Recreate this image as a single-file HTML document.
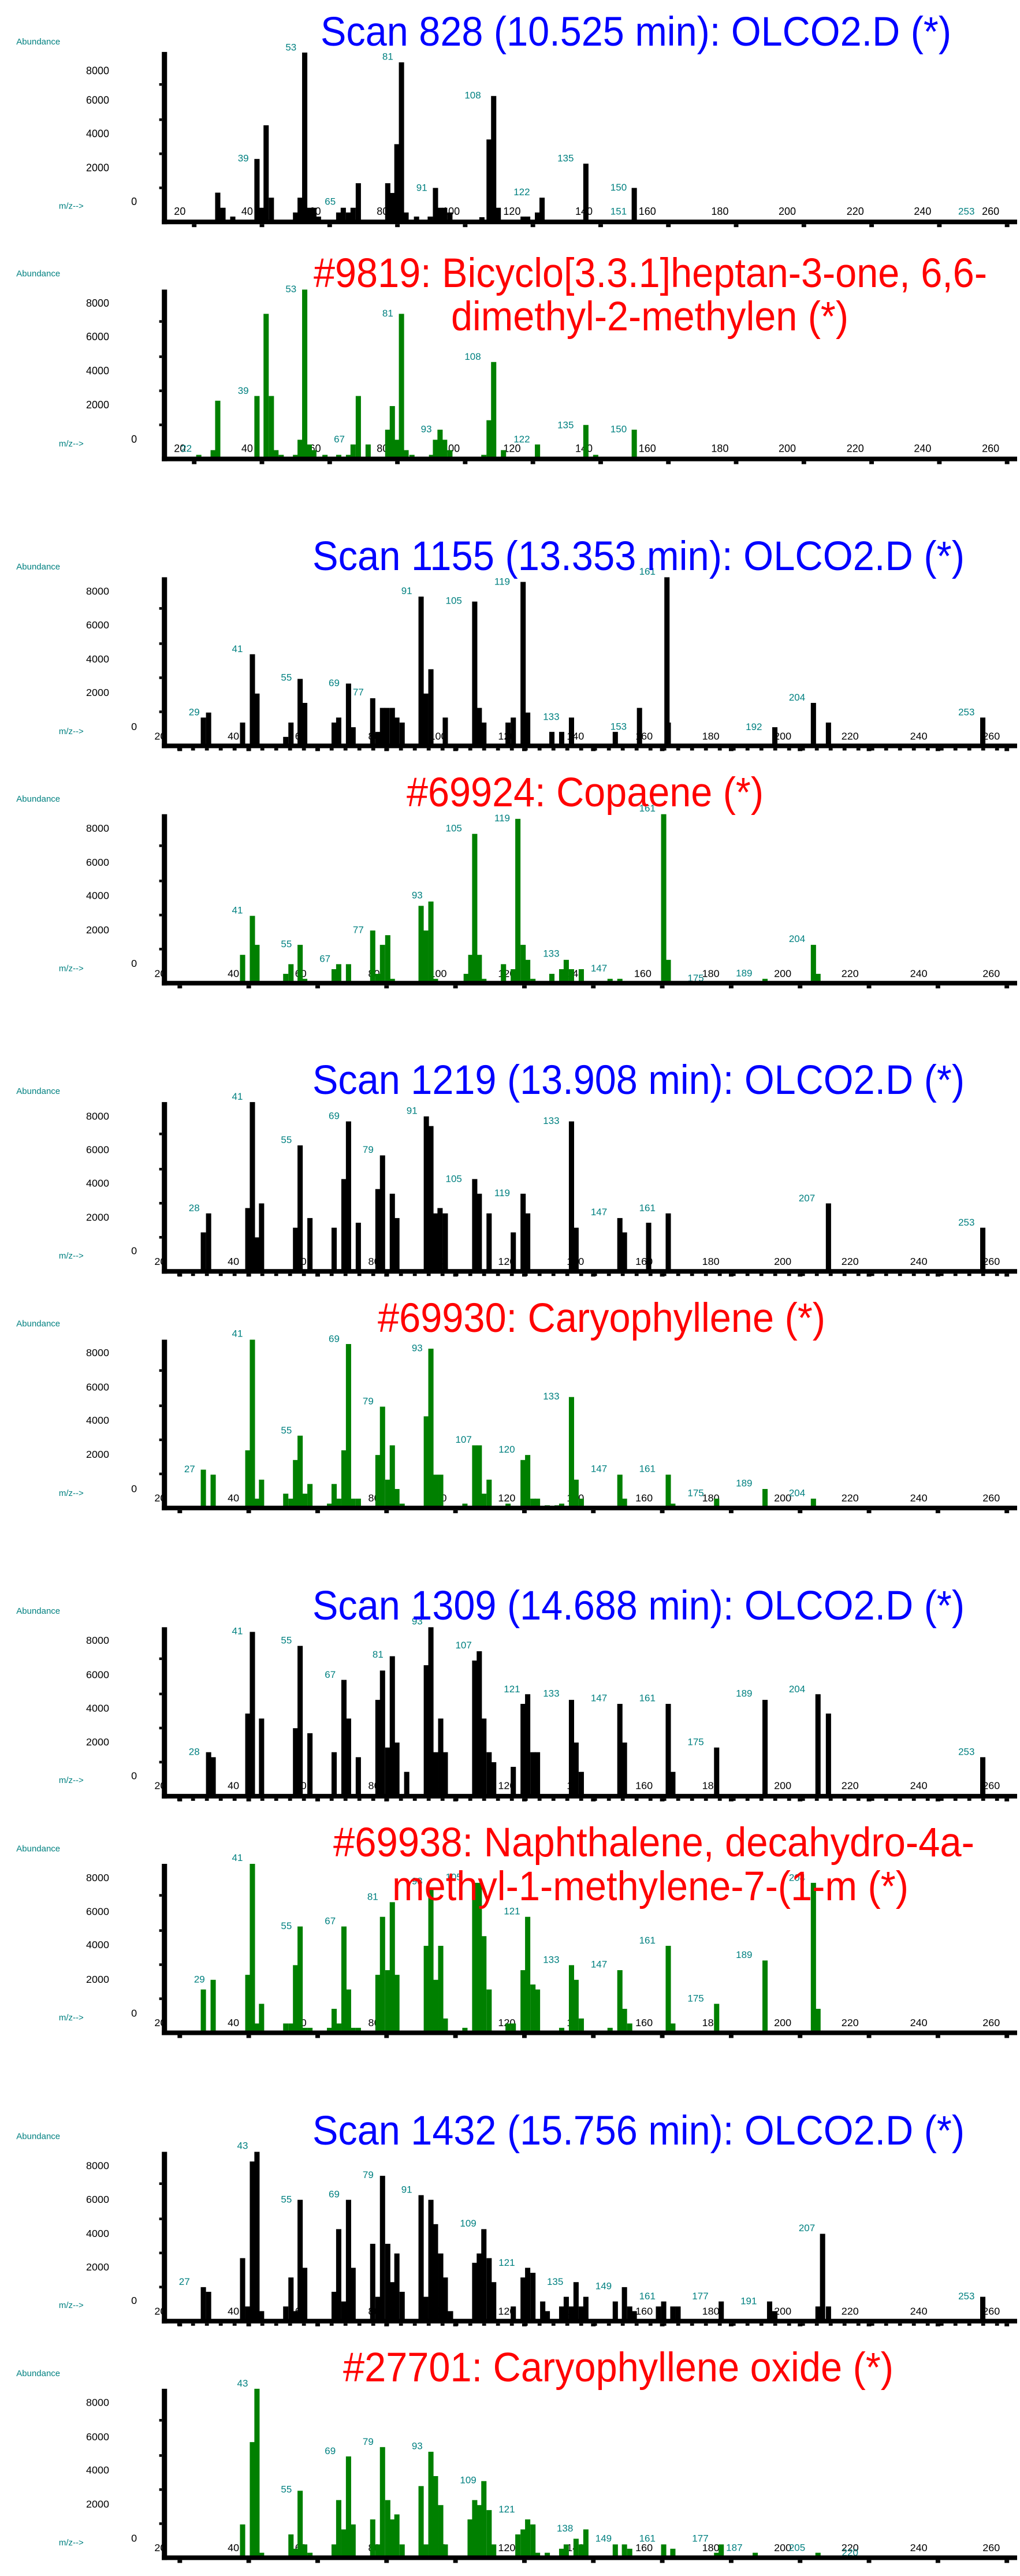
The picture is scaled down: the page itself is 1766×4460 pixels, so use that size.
<!DOCTYPE html>
<html><head><meta charset="utf-8">
<style>
html,body{margin:0;padding:0;background:#fff;}
svg{display:block;}
text{font-family:"Liberation Sans",Arial,sans-serif;}
.p{fill:#008080;font-size:17px;text-anchor:middle;dominant-baseline:central;}
.a{fill:#000;font-size:18px;text-anchor:middle;dominant-baseline:central;}
.y{fill:#000;font-size:18px;text-anchor:end;dominant-baseline:central;}
.ab{fill:#008080;font-size:15px;text-anchor:start;dominant-baseline:central;}
.t{font-size:71px;}
</style></head>
<body>
<svg id="s" width="1766" height="4460" viewBox="0 0 1766 4460" xmlns="http://www.w3.org/2000/svg">
<rect width="1766" height="4460" fill="#fff"/>

<!-- Block 0 -->
<g id="b0" transform="translate(0,0) scale(1.1321,0.5450)">
<g class="tx">
<text class="ab" x="25" y="133">Abundance</text>
<text class="ab" x="90" y="655">m/z--&gt;</text>
<text class="y" x="167" y="225">8000</text><text class="y" x="167" y="318">6000</text><text class="y" x="167" y="425">4000</text><text class="y" x="167" y="533">2000</text><text class="a" x="205" y="640">0</text>
<text class="a" x="275" y="672">20</text><text class="a" x="378" y="672">40</text><text class="a" x="482" y="672">60</text><text class="a" x="585" y="672">80</text><text class="a" x="690" y="672">100</text><text class="a" x="783" y="672">120</text><text class="a" x="893" y="672">140</text><text class="a" x="990" y="672">160</text><text class="a" x="1101" y="672">180</text><text class="a" x="1204" y="672">200</text><text class="a" x="1308" y="672">220</text><text class="a" x="1411" y="672">240</text><text class="a" x="1515" y="672">260</text>
<text class="p" x="445" y="150">53</text><text class="p" x="593" y="180">81</text><text class="p" x="723" y="303">108</text><text class="p" x="372" y="503">39</text><text class="p" x="645" y="596">91</text><text class="p" x="865" y="503">135</text><text class="p" x="798" y="610">122</text><text class="p" x="946" y="595">150</text><text class="p" x="505" y="640">65</text><text class="p" x="946" y="672">151</text><text class="p" x="1478" y="672">253</text>

<text class="ab" x="25" y="870">Abundance</text>
<text class="ab" x="90" y="1410">m/z--&gt;</text>
<text class="y" x="167" y="963">8000</text><text class="y" x="167" y="1070">6000</text><text class="y" x="167" y="1178">4000</text><text class="y" x="167" y="1286">2000</text><text class="a" x="205" y="1395">0</text>
<text class="a" x="275" y="1425">20</text><text class="p" x="285" y="1425">22</text><text class="a" x="378" y="1425">40</text><text class="a" x="482" y="1425">60</text><text class="a" x="585" y="1425">80</text><text class="a" x="690" y="1425">100</text><text class="a" x="783" y="1425">120</text><text class="a" x="893" y="1425">140</text><text class="a" x="990" y="1425">160</text><text class="a" x="1101" y="1425">180</text><text class="a" x="1204" y="1425">200</text><text class="a" x="1308" y="1425">220</text><text class="a" x="1411" y="1425">240</text><text class="a" x="1515" y="1425">260</text>
<text class="p" x="445" y="918">53</text><text class="p" x="593" y="995">81</text><text class="p" x="723" y="1133">108</text><text class="p" x="372" y="1241">39</text><text class="p" x="652" y="1363">93</text><text class="p" x="865" y="1350">135</text><text class="p" x="946" y="1363">150</text><text class="p" x="519" y="1395">67</text><text class="p" x="798" y="1395">122</text>
</g></g>

<!-- Block 1 -->
<g id="b1" transform="translate(0,880) scale(1.1321,0.5770)">
<g class="tx">
<text class="ab" x="25" y="176">Abundance</text>
<text class="ab" x="90" y="670">m/z--&gt;</text>
<text class="y" x="167" y="249">8000</text><text class="y" x="167" y="350">6000</text><text class="y" x="167" y="452">4000</text><text class="y" x="167" y="553">2000</text><text class="a" x="205" y="655">0</text>
<text class="a" x="245" y="684">20</text><text class="a" x="357" y="684">40</text><text class="a" x="460" y="684">60</text><text class="a" x="572" y="684">80</text><text class="a" x="670" y="684">100</text><text class="a" x="775" y="684">120</text><text class="a" x="880" y="684">140</text><text class="a" x="985" y="684">160</text><text class="a" x="1087" y="684">180</text><text class="a" x="1197" y="684">200</text><text class="a" x="1300" y="684">220</text><text class="a" x="1405" y="684">240</text><text class="a" x="1516" y="684">260</text>
<text class="p" x="990" y="190">161</text><text class="p" x="768" y="220">119</text><text class="p" x="622" y="248">91</text><text class="p" x="694" y="277">105</text><text class="p" x="363" y="422">41</text><text class="p" x="438" y="508">55</text><text class="p" x="511" y="524">69</text><text class="p" x="548" y="552">77</text><text class="p" x="297" y="612">29</text><text class="p" x="843" y="626">133</text><text class="p" x="946" y="655">153</text><text class="p" x="1153" y="656">192</text><text class="p" x="1219" y="568">204</text><text class="p" x="1478" y="612">253</text>

<text class="ab" x="25" y="873">Abundance</text>
<text class="ab" x="90" y="1381">m/z--&gt;</text>
<text class="y" x="167" y="960">8000</text><text class="y" x="167" y="1062">6000</text><text class="y" x="167" y="1162">4000</text><text class="y" x="167" y="1265">2000</text><text class="a" x="205" y="1366">0</text>
<text class="a" x="245" y="1396">20</text><text class="a" x="357" y="1396">40</text><text class="a" x="460" y="1396">60</text><text class="a" x="572" y="1396">80</text><text class="a" x="670" y="1396">100</text><text class="a" x="775" y="1396">120</text><text class="a" x="880" y="1396">140</text><text class="a" x="983" y="1396">160</text><text class="a" x="1087" y="1396">180</text><text class="a" x="1197" y="1396">200</text><text class="a" x="1300" y="1396">220</text><text class="a" x="1405" y="1396">240</text><text class="a" x="1516" y="1396">260</text>
<text class="p" x="990" y="900">161</text><text class="p" x="768" y="930">119</text><text class="p" x="694" y="960">105</text><text class="p" x="638" y="1161">93</text><text class="p" x="363" y="1206">41</text><text class="p" x="548" y="1265">77</text><text class="p" x="438" y="1308">55</text><text class="p" x="497" y="1352">67</text><text class="p" x="843" y="1336">133</text><text class="p" x="916" y="1380">147</text><text class="p" x="1219" y="1292">204</text><text class="p" x="1064" y="1410">175</text><text class="p" x="1138" y="1395">189</text>
</g></g>

<!-- Block 2 -->
<g id="b2" transform="translate(0,1780) scale(1.1321,0.5770)">
<g class="tx">
<text class="ab" x="25" y="190">Abundance</text>
<text class="ab" x="90" y="684">m/z--&gt;</text>
<text class="y" x="167" y="264">8000</text><text class="y" x="167" y="365">6000</text><text class="y" x="167" y="465">4000</text><text class="y" x="167" y="568">2000</text><text class="a" x="205" y="668">0</text>
<text class="a" x="245" y="700">20</text><text class="a" x="357" y="700">40</text><text class="a" x="460" y="700">60</text><text class="a" x="572" y="700">80</text><text class="a" x="670" y="700">100</text><text class="a" x="775" y="700">120</text><text class="a" x="880" y="700">140</text><text class="a" x="985" y="700">160</text><text class="a" x="1087" y="700">180</text><text class="a" x="1197" y="700">200</text><text class="a" x="1300" y="700">220</text><text class="a" x="1405" y="700">240</text><text class="a" x="1516" y="700">260</text>
<text class="p" x="363" y="205">41</text><text class="p" x="511" y="263">69</text><text class="p" x="630" y="248">91</text><text class="p" x="843" y="278">133</text><text class="p" x="438" y="335">55</text><text class="p" x="563" y="365">79</text><text class="p" x="694" y="452">105</text><text class="p" x="768" y="495">119</text><text class="p" x="297" y="540">28</text><text class="p" x="916" y="552">147</text><text class="p" x="990" y="540">161</text><text class="p" x="1234" y="510">207</text><text class="p" x="1478" y="583">253</text>

<text class="ab" x="25" y="887">Abundance</text>
<text class="ab" x="90" y="1396">m/z--&gt;</text>
<text class="y" x="167" y="974">8000</text><text class="y" x="167" y="1077">6000</text><text class="y" x="167" y="1177">4000</text><text class="y" x="167" y="1279">2000</text><text class="a" x="205" y="1382">0</text>
<text class="a" x="245" y="1410">20</text><text class="a" x="357" y="1410">40</text><text class="a" x="460" y="1410">60</text><text class="a" x="572" y="1410">80</text><text class="a" x="670" y="1410">100</text><text class="a" x="775" y="1410">120</text><text class="a" x="880" y="1410">140</text><text class="a" x="985" y="1410">160</text><text class="a" x="1087" y="1410">180</text><text class="a" x="1197" y="1410">200</text><text class="a" x="1300" y="1410">220</text><text class="a" x="1405" y="1410">240</text><text class="a" x="1516" y="1410">260</text>
<text class="p" x="363" y="917">41</text><text class="p" x="511" y="932">69</text><text class="p" x="638" y="960">93</text><text class="p" x="843" y="1105">133</text><text class="p" x="563" y="1120">79</text><text class="p" x="438" y="1207">55</text><text class="p" x="709" y="1235">107</text><text class="p" x="775" y="1264">120</text><text class="p" x="290" y="1323">27</text><text class="p" x="916" y="1322">147</text><text class="p" x="990" y="1322">161</text><text class="p" x="1064" y="1395">175</text><text class="p" x="1138" y="1366">189</text><text class="p" x="1219" y="1395">204</text>
</g></g>

<!-- Block 3 -->
<g id="b3" transform="translate(0,2680) scale(1.1321,0.5770)">
<g class="tx">
<text class="ab" x="25" y="190">Abundance</text>
<text class="ab" x="90" y="698">m/z--&gt;</text>
<text class="y" x="167" y="277">8000</text><text class="y" x="167" y="380">6000</text><text class="y" x="167" y="481">4000</text><text class="y" x="167" y="582">2000</text><text class="a" x="205" y="684">0</text>
<text class="a" x="245" y="713">20</text><text class="a" x="357" y="713">40</text><text class="a" x="460" y="713">60</text><text class="a" x="572" y="713">80</text><text class="a" x="670" y="713">100</text><text class="a" x="775" y="713">120</text><text class="a" x="880" y="713">140</text><text class="a" x="985" y="713">160</text><text class="a" x="1087" y="713">180</text><text class="a" x="1197" y="713">200</text><text class="a" x="1300" y="713">220</text><text class="a" x="1405" y="713">240</text><text class="a" x="1516" y="713">260</text>
<text class="p" x="638" y="220">93</text><text class="p" x="363" y="250">41</text><text class="p" x="438" y="277">55</text><text class="p" x="709" y="292">107</text><text class="p" x="578" y="320">81</text><text class="p" x="505" y="380">67</text><text class="p" x="783" y="424">121</text><text class="p" x="843" y="437">133</text><text class="p" x="916" y="451">147</text><text class="p" x="990" y="451">161</text><text class="p" x="1138" y="437">189</text><text class="p" x="1219" y="424">204</text><text class="p" x="1064" y="582">175</text><text class="p" x="297" y="612">28</text><text class="p" x="1478" y="612">253</text>

<text class="ab" x="25" y="903">Abundance</text>
<text class="ab" x="90" y="1410">m/z--&gt;</text>
<text class="y" x="167" y="990">8000</text><text class="y" x="167" y="1091">6000</text><text class="y" x="167" y="1191">4000</text><text class="y" x="167" y="1295">2000</text><text class="a" x="205" y="1396">0</text>
<text class="a" x="245" y="1425">20</text><text class="a" x="357" y="1425">40</text><text class="a" x="460" y="1425">60</text><text class="a" x="572" y="1425">80</text><text class="a" x="670" y="1425">100</text><text class="a" x="775" y="1425">120</text><text class="a" x="880" y="1425">140</text><text class="a" x="985" y="1425">160</text><text class="a" x="1087" y="1425">180</text><text class="a" x="1197" y="1425">200</text><text class="a" x="1300" y="1425">220</text><text class="a" x="1405" y="1425">240</text><text class="a" x="1516" y="1425">260</text>
<text class="p" x="363" y="930">41</text><text class="p" x="638" y="1000">93</text><text class="p" x="694" y="988">105</text><text class="p" x="570" y="1047">81</text><text class="p" x="783" y="1090">121</text><text class="p" x="438" y="1134">55</text><text class="p" x="505" y="1120">67</text><text class="p" x="990" y="1178">161</text><text class="p" x="1138" y="1221">189</text><text class="p" x="843" y="1236">133</text><text class="p" x="916" y="1250">147</text><text class="p" x="305" y="1295">29</text><text class="p" x="1064" y="1352">175</text><text class="p" x="1219" y="990">204</text>
</g></g>

<!-- Block 4 -->
<g id="b4" transform="translate(0,3560) scale(1.1321,0.5770)">
<g class="tx">
<text class="ab" x="25" y="241">Abundance</text>
<text class="ab" x="90" y="748">m/z--&gt;</text>
<text class="y" x="167" y="328">8000</text><text class="y" x="167" y="430">6000</text><text class="y" x="167" y="532">4000</text><text class="y" x="167" y="633">2000</text><text class="a" x="205" y="733">0</text>
<text class="a" x="245" y="765">20</text><text class="a" x="357" y="765">40</text><text class="a" x="460" y="765">60</text><text class="a" x="572" y="765">80</text><text class="a" x="670" y="765">100</text><text class="a" x="775" y="765">120</text><text class="a" x="880" y="765">140</text><text class="a" x="985" y="765">160</text><text class="a" x="1087" y="765">180</text><text class="a" x="1197" y="765">200</text><text class="a" x="1300" y="765">220</text><text class="a" x="1405" y="765">240</text><text class="a" x="1516" y="765">260</text>
<text class="p" x="371" y="269">43</text><text class="p" x="563" y="356">79</text><text class="p" x="622" y="400">91</text><text class="p" x="511" y="414">69</text><text class="p" x="438" y="430">55</text><text class="p" x="716" y="502">109</text><text class="p" x="1234" y="516">207</text><text class="p" x="775" y="620">121</text><text class="p" x="849" y="677">135</text><text class="p" x="923" y="690">149</text><text class="p" x="282" y="677">27</text><text class="p" x="990" y="720">161</text><text class="p" x="1071" y="720">177</text><text class="p" x="1145" y="735">191</text><text class="p" x="1478" y="720">253</text>

<text class="ab" x="25" y="952">Abundance</text>
<text class="ab" x="90" y="1460">m/z--&gt;</text>
<text class="y" x="167" y="1039">8000</text><text class="y" x="167" y="1142">6000</text><text class="y" x="167" y="1242">4000</text><text class="y" x="167" y="1344">2000</text><text class="a" x="205" y="1446">0</text>
<text class="a" x="245" y="1475">20</text><text class="a" x="357" y="1475">40</text><text class="a" x="460" y="1475">60</text><text class="a" x="572" y="1475">80</text><text class="a" x="670" y="1475">100</text><text class="a" x="775" y="1475">120</text><text class="a" x="880" y="1475">140</text><text class="a" x="985" y="1475">160</text><text class="a" x="1087" y="1475">180</text><text class="a" x="1197" y="1475">200</text><text class="a" x="1300" y="1475">220</text><text class="a" x="1405" y="1475">240</text><text class="a" x="1516" y="1475">260</text>
<text class="p" x="371" y="982">43</text><text class="p" x="563" y="1157">79</text><text class="p" x="638" y="1170">93</text><text class="p" x="505" y="1185">69</text><text class="p" x="438" y="1300">55</text><text class="p" x="716" y="1272">109</text><text class="p" x="775" y="1360">121</text><text class="p" x="864" y="1417">138</text><text class="p" x="923" y="1447">149</text><text class="p" x="990" y="1447">161</text><text class="p" x="1071" y="1447">177</text><text class="p" x="1123" y="1475">187</text><text class="p" x="1219" y="1475">205</text><text class="p" x="1300" y="1490">220</text>
</g></g>

<!-- Titles -->
<text class="t" x="555" y="79" fill="#0000ff" textLength="1092" lengthAdjust="spacingAndGlyphs">Scan 828 (10.525 min): OLCO2.D (*)</text>
<text class="t" x="543" y="497" fill="#ff0000" textLength="1166" lengthAdjust="spacingAndGlyphs">#9819: Bicyclo[3.3.1]heptan-3-one, 6,6-</text>
<text class="t" x="781" y="572" fill="#ff0000" textLength="688" lengthAdjust="spacingAndGlyphs">dimethyl-2-methylen (*)</text>
<text class="t" x="541" y="987" fill="#0000ff" textLength="1129" lengthAdjust="spacingAndGlyphs">Scan 1155 (13.353 min): OLCO2.D (*)</text>
<text class="t" x="704" y="1396" fill="#ff0000" textLength="618" lengthAdjust="spacingAndGlyphs">#69924: Copaene (*)</text>
<text class="t" x="541" y="1894" fill="#0000ff" textLength="1129" lengthAdjust="spacingAndGlyphs">Scan 1219 (13.908 min): OLCO2.D (*)</text>
<text class="t" x="654" y="2306" fill="#ff0000" textLength="775" lengthAdjust="spacingAndGlyphs">#69930: Caryophyllene (*)</text>
<text class="t" x="541" y="2804" fill="#0000ff" textLength="1129" lengthAdjust="spacingAndGlyphs">Scan 1309 (14.688 min): OLCO2.D (*)</text>
<text class="t" x="577" y="3214" fill="#ff0000" textLength="1110" lengthAdjust="spacingAndGlyphs">#69938: Naphthalene, decahydro-4a-</text>
<text class="t" x="679" y="3290" fill="#ff0000" textLength="894" lengthAdjust="spacingAndGlyphs">methyl-1-methylene-7-(1-m (*)</text>
<text class="t" x="541" y="3713" fill="#0000ff" textLength="1129" lengthAdjust="spacingAndGlyphs">Scan 1432 (15.756 min): OLCO2.D (*)</text>
<text class="t" x="594" y="4123" fill="#ff0000" textLength="953" lengthAdjust="spacingAndGlyphs">#27701: Caryophyllene oxide (*)</text>
</svg>
<script>
(function(){
var NS="http://www.w3.org/2000/svg";
var F=[1.835,1.733,1.733,1.733,1.733];
// fix text transforms (counter nonuniform scaling)
for(var b=0;b<5;b++){
  var g=document.getElementById("b"+b);
  var ts=g.querySelectorAll("text");
  for(var i=0;i<ts.length;i++){
    var t=ts[i],x=t.getAttribute("x"),y=t.getAttribute("y");
    t.setAttribute("x","0");t.setAttribute("y","0");
    t.setAttribute("transform","translate("+x+","+y+") scale(0.8833,"+F[b]+")");
  }
}
var P=[
{b:0,ax:705,top:165,c:"#000",t0:297,ts:103.6,minor:0,d:[333,612,341,660,356,688,393,505,400,660,407,398,415,628,452,675,459,628,466,167,473,660,480,660,487,688,518,675,525,660,533,675,540,660,548,582,593,582,600,613,607,458,614,198,621,675,637,688,658,688,666,597,673,660,680,660,688,675,737,690,748,443,755,305,762,660,800,688,807,688,822,675,829,628,896,520,970,597]},
{b:0,ax:1458,top:920,c:"#008000",t0:297,ts:103.6,minor:0,d:[304,1445,326,1430,333,1273,393,1258,407,997,415,1258,422,1430,430,1445,452,1445,459,1397,466,920,473,1412,480,1430,497,1445,518,1445,533,1445,540,1412,548,1258,563,1412,593,1365,600,1290,607,1397,614,997,621,1430,630,1445,660,1445,666,1397,673,1365,680,1397,688,1430,740,1445,748,1335,755,1150,770,1430,822,1412,896,1350,911,1445,970,1365]},
{b:1,ax:713,top:207,c:"#000",t0:275,ts:105.4,minor:1,d:[311,628,319,613,371,643,386,438,393,556,437,686,445,643,459,512,466,584,511,643,518,628,533,526,540,657,570,570,578,671,585,599,592,599,600,599,607,628,615,643,644,265,651,556,659,483,681,628,726,280,733,599,740,643,777,643,785,628,800,221,807,613,844,671,859,671,874,628,941,671,978,599,1020,207,1022,643,1185,657,1244,584,1267,643,1503,628]},
{b:1,ax:1425,top:918,c:"#008000",t0:275,ts:105.4,minor:0,d:[371,1340,386,1223,393,1310,437,1397,445,1368,459,1310,466,1412,511,1383,518,1368,533,1368,570,1267,578,1397,585,1310,593,1281,600,1412,644,1193,651,1267,659,1180,666,1412,713,1397,720,1340,726,977,733,1340,740,1412,770,1368,785,1383,792,932,800,1310,807,1355,815,1412,844,1397,859,1383,866,1355,874,1383,889,1383,933,1412,948,1412,1015,918,1022,1355,1170,1412,1244,1310,1251,1397]},
{b:2,ax:730,top:222,c:"#000",t0:275,ts:105.4,minor:1,d:[311,613,319,556,379,540,386,222,393,628,400,526,452,599,459,352,474,570,511,599,526,453,533,280,548,584,578,483,585,382,600,497,607,570,652,265,659,294,666,556,673,540,681,556,726,453,733,497,748,556,785,613,800,497,807,556,874,280,881,599,948,570,955,613,992,584,1022,556,1267,526,1503,599]},
{b:2,ax:1440,top:935,c:"#008000",t0:275,ts:105.4,minor:0,d:[311,1325,326,1340,379,1267,386,935,393,1412,400,1355,437,1397,445,1412,452,1296,459,1223,466,1397,474,1368,504,1427,511,1368,518,1412,526,1267,533,948,540,1412,548,1412,578,1281,585,1136,593,1355,600,1252,607,1383,615,1427,652,1165,659,962,666,1340,674,1340,711,1427,726,1252,733,1252,740,1397,748,1355,777,1427,800,1296,807,1281,815,1412,822,1412,837,1432,852,1432,859,1427,874,1107,881,1355,889,1412,948,1340,955,1412,1022,1340,1029,1427,1096,1412,1170,1383,1244,1412]},
{b:3,ax:745,top:238,c:"#000",t0:275,ts:105.4,minor:1,d:[319,613,326,628,379,497,386,252,400,512,452,541,459,294,474,556,511,613,526,396,533,512,548,628,578,456,585,368,593,599,600,325,607,584,622,672,652,352,659,238,666,613,674,512,681,613,726,338,733,310,740,512,748,613,755,643,785,657,800,468,807,439,815,613,822,613,874,456,881,584,889,672,948,468,955,584,1022,468,1029,672,1096,599,1170,456,1251,439,1267,497,1503,628]},
{b:3,ax:1455,top:948,c:"#008000",t0:275,ts:105.4,minor:0,d:[311,1325,326,1296,379,1281,386,948,393,1427,400,1368,437,1427,445,1427,452,1252,459,1136,466,1440,474,1440,504,1440,511,1383,518,1427,526,1136,533,1325,540,1440,548,1440,578,1281,585,1107,593,1267,600,1063,607,1281,652,1194,659,1020,666,1296,674,1194,681,1412,711,1440,726,1005,733,1005,740,1165,748,1325,777,1427,785,1427,800,1267,807,1107,815,1310,822,1325,859,1440,874,1252,881,1296,889,1412,933,1440,948,1267,955,1383,963,1427,1022,1194,1029,1427,1096,1368,1170,1238,1244,1005,1251,1383]},
{b:4,ax:795,top:287,c:"#000",t0:275,ts:105.4,minor:1,d:[311,693,319,707,371,606,379,751,386,316,393,287,400,765,437,751,445,664,452,765,459,431,466,635,511,707,518,519,526,736,533,431,540,635,570,563,578,722,585,359,593,563,600,678,607,592,615,707,644,417,651,722,659,431,666,504,674,592,681,664,689,765,726,620,733,592,740,519,748,606,755,678,785,751,800,664,807,635,815,650,830,736,837,765,859,751,866,722,874,751,881,678,889,751,896,722,941,736,955,693,963,751,970,765,1007,751,1015,736,1029,751,1037,751,1103,736,1177,736,1185,765,1251,751,1258,533,1267,751,1503,722]},
{b:4,ax:1505,top:998,c:"#008000",t0:275,ts:105.4,minor:0,d:[371,1405,386,1158,393,998,400,1490,445,1435,452,1478,459,1304,466,1465,474,1490,511,1465,518,1332,526,1420,533,1201,540,1405,570,1390,578,1465,585,1173,593,1332,600,1390,607,1375,615,1465,644,1290,651,1465,659,1187,666,1260,674,1347,681,1465,719,1390,726,1332,733,1347,740,1275,748,1362,755,1465,792,1435,800,1420,807,1390,815,1405,822,1490,837,1490,859,1478,866,1465,881,1448,889,1465,896,1420,941,1465,955,1465,963,1478,1015,1465,1029,1478,1096,1490,1103,1465,1155,1490,1251,1490]}
];
function R(g,x,y,w,h,c){var r=document.createElementNS(NS,"rect");r.setAttribute("x",x);r.setAttribute("y",y);r.setAttribute("width",w);r.setAttribute("height",h);r.setAttribute("fill",c);g.appendChild(r);}
for(var i=0;i<P.length;i++){
  var p=P[i],f=F[p.b],blk=document.getElementById("b"+p.b);
  var g=document.createElementNS(NS,"g");blk.appendChild(g);
  var ht=4*f; // half axis thickness in zoom units
  // bars
  for(var k=0;k<p.d.length;k+=2){
    var x=p.d[k],t=p.d[k+1];
    R(g,x-4,t,8,p.ax-t,p.c);
  }
  // y axis
  R(g,247.5,p.top,8,p.ax-p.top+ht,"#000");
  // y ticks
  var yt=[59,118,177,238];
  for(var j=0;j<4;j++){R(g,243.5,p.ax-yt[j]*f-4.5*f/2,4,4.5*f,"#000");}
  // x axis
  R(g,247.5,p.ax-ht,1308,2*ht,"#000");
  // major ticks
  for(var m=0;m<13;m++){R(g,p.t0+m*p.ts-3.5,p.ax+ht,7,5*f,"#000");}
  if(p.minor){for(var xx=p.t0-1;xx<1545;xx+=21.2){R(g,xx-3,p.ax+ht,6,4*f,"#000");}}
}
})();
</script>
</body></html>
